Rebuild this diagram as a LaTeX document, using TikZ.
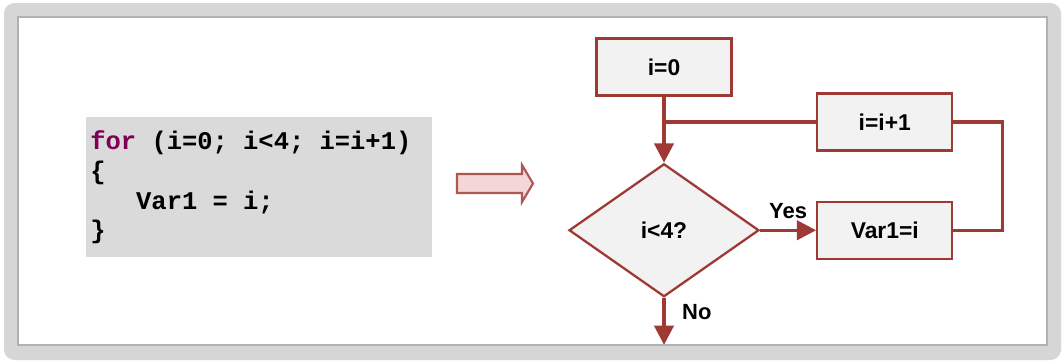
\documentclass[tikz,border=0pt]{standalone}
\usepackage{fontspec}
\setmainfont{Liberation Sans}
\setmonofont{Liberation Mono}
\usetikzlibrary{
  arrows.meta,
  positioning,
  shapes.geometric
}
\definecolor{flowred}{HTML}{9E3A33}
\definecolor{boxgrey}{HTML}{F2F2F2}
\definecolor{codegrey}{HTML}{DADADA}
\definecolor{keyword}{HTML}{7F0055}
\definecolor{pinkfill}{HTML}{F4D6D6}
\definecolor{framegrey}{HTML}{D6D6D6}
\tikzset{
  flowbox/.style={
    rectangle, draw=flowred, fill=boxgrey, line width=1.3pt,
    minimum width=2.7cm, minimum height=1.14cm,
    font=\fontsize{13}{15}\selectfont\bfseries
  },
  decision/.style={
    diamond, draw=flowred, fill=boxgrey, line width=1.3pt,
    minimum width=3.8cm, minimum height=2.66cm, inner sep=0pt,
    font=\fontsize{13}{15}\selectfont\bfseries
  },
  codebox/.style={
    rectangle, fill=codegrey, text width=6.76cm, inner xsep=0.08cm,
    minimum height=2.8cm, align=left,
    font=\fontsize{14.5}{17}\selectfont\ttfamily\bfseries
  },
  flowline/.style={
    draw=flowred, line width=2pt
  },
  flowarrow/.style={
    flowline, -{Triangle[width=11pt,length=11pt]}
  },
  flowlabel/.style={
    font=\fontsize{12.5}{14}\selectfont\bfseries
  },
}
\newcommand{\kw}[1]{{\color{keyword}#1}}
\newcommand{\tsp}{\hspace*{0.6em}}

\begin{document}
\begin{tikzpicture}[x=0.02cm, y=-0.02cm]
  \useasboundingbox (0,0) rectangle (1064,362);

  % frame
  \fill[framegrey, rounded corners=6pt] (4,3) rectangle (1061,360);
  \draw[gray!60, fill=white, line width=1pt] (18,17) rectangle (1047,345);

  % source code
  \node[codebox, anchor=north west] (code) at (86,117)
    {\kw{for}\tsp(i=0;\tsp i<4;\tsp i=i+1)\\
     \{\\
     \tsp\tsp\tsp Var1\tsp=\tsp i;\\
     \}};

  % conversion arrow
  \draw[flowred!85, fill=pinkfill, line width=1.2pt]
    (457,174) -- (522,174) -- (522,165) -- (533,183.5)
    -- (522,202) -- (522,193) -- (457,193) -- cycle;

  % flowchart
  \node[flowbox] (init) at (664,67) {i=0};
  \node[decision, below=1.32cm of init] (test) {i<4?};
  \node[flowbox, right=1.12cm of test] (body) {Var1=i};
  \node[flowbox, above=0.98cm of body] (incr) {i=i+1};

  \coordinate (join) at (init |- incr);
  \coordinate[right=0.98cm of body] (loopr);
  \coordinate[below=0.94cm of test] (exit);

  \draw[flowline] (init) -- (join);
  \draw[flowline] (incr) -- (join);
  \draw[flowarrow] (join) -- (test);
  \draw[flowarrow] (test) -- (body)
    node[midway,above=2pt,flowlabel]{Yes};
  \draw[flowline] (body) -- (loopr) |- (incr);
  \draw[flowarrow] (test) -- (exit)
    node[pos=0.3,right=6pt,flowlabel]{No};
\end{tikzpicture}
\end{document}
